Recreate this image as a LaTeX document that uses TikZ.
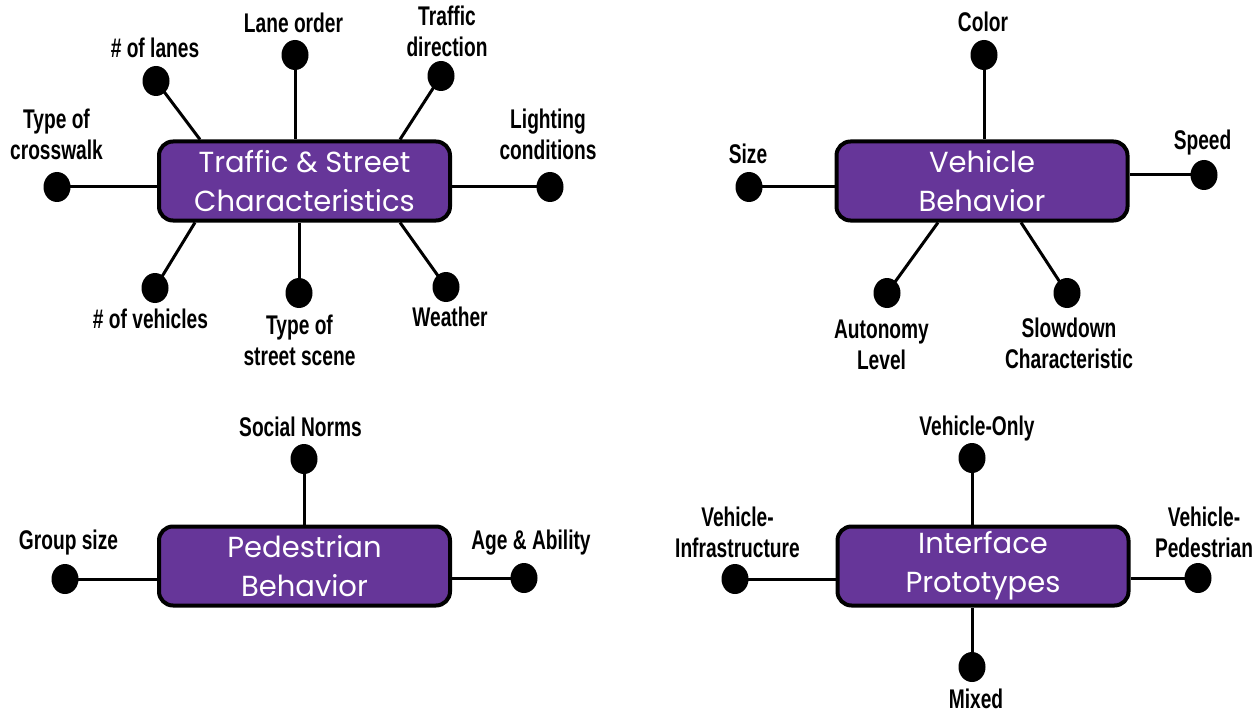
\documentclass[tikz,border=0pt]{standalone}
\usepackage{fontspec}
\usetikzlibrary{shapes.geometric,calc}
\newfontfamily\lblfont[FakeStretch=0.71]{Liberation Sans}
\newfontfamily\boxfont{Poppins}
\definecolor{boxpurple}{RGB}{102,54,153}
\begin{document}
\begin{tikzpicture}[x=1pt,y=-1pt,
  hub/.style={draw=black, line width=4pt, fill=boxpurple, rounded corners=14pt,
    minimum width=291pt, minimum height=79pt, inner sep=0pt, text=white,
    align=center, font=\boxfont\fontsize{29}{39}\selectfont},
  dot/.style={ellipse, fill=black, minimum width=27pt, minimum height=30pt, inner sep=0pt},
  lbl/.style={anchor=base, align=center, inner sep=0pt,
    font=\lblfont\bfseries\fontsize{27}{31}\selectfont},
  conn/.style={line width=3pt}]
\useasboundingbox[fill=white] (0,0) rectangle (1255,714);

% hubs
\node[hub] (b1) at (304.5,181) {Traffic \& Street\\Characteristics};
\node[hub] (b2) at (982,181) {Vehicle\\Behavior};
\node[hub] (b3) at (304.5,566) {Pedestrian\\Behavior};
\node[hub] (b4) at (983,566) {Interface\\Prototypes};

% dots, box 1
\node[dot] (d1a) at (156,81) {};
\node[dot] (d1b) at (295,55) {};
\node[dot] (d1c) at (441,76) {};
\node[dot] (d1d) at (57,187) {};
\node[dot] (d1e) at (550,187) {};
\node[dot] (d1f) at (155,288) {};
\node[dot] (d1g) at (299,293) {};
\node[dot] (d1h) at (446,287) {};
% dots, box 2
\node[dot] (d2a) at (984,55) {};
\node[dot] (d2b) at (749,187) {};
\node[dot] (d2c) at (1204,175) {};
\node[dot] (d2d) at (887,293) {};
\node[dot] (d2e) at (1067,293) {};
% dots, box 3
\node[dot] (d3a) at (304,459) {};
\node[dot] (d3b) at (65,579) {};
\node[dot] (d3c) at (524,578) {};
% dots, box 4
\node[dot] (d4a) at (972,458) {};
\node[dot] (d4b) at (735,579) {};
\node[dot] (d4c) at (1198,578) {};
\node[dot] (d4d) at (972,667) {};

% connectors, box 1
\draw[conn] (d1a.center) -- ($(b1.north west)+(43,0)$);
\draw[conn] (d1b.center) -- (d1b |- b1.north);
\draw[conn] (d1c.center) -- ($(b1.north west)+(243,0)$);
\draw[conn] (d1d.center) -- (d1d -| b1.west);
\draw[conn] (d1e.center) -- (d1e -| b1.east);
\draw[conn] (d1f.center) -- ($(b1.south west)+(38,0)$);
\draw[conn] (d1g.center) -- (d1g |- b1.south);
\draw[conn] (d1h.center) -- ($(b1.south west)+(243,0)$);
% connectors, box 2
\draw[conn] (d2a.center) -- (d2a |- b2.north);
\draw[conn] (d2b.center) -- (d2b -| b2.west);
\draw[conn] (d2c.center) -- (d2c -| b2.east);
\draw[conn] (d2d.center) -- ($(b2.south west)+(103.5,0)$);
\draw[conn] (d2e.center) -- ($(b2.south west)+(186.5,0)$);
% connectors, box 3
\draw[conn] (d3a.center) -- (d3a |- b3.north);
\draw[conn] (d3b.center) -- (d3b -| b3.west);
\draw[conn] (d3c.center) -- (d3c -| b3.east);
% connectors, box 4
\draw[conn] (d4a.center) -- (d4a |- b4.north);
\draw[conn] (d4b.center) -- (d4b -| b4.west);
\draw[conn] (d4c.center) -- (d4c -| b4.east);
\draw[conn] (d4d.center) -- (d4d |- b4.south);

% labels, box 1 (base = baseline of the last line)
\node[lbl] (l1a) at (155,58) {\# of lanes};
\node[lbl] (l1b) at (293.5,33) {Lane order};
\node[lbl] (l1c) at (447,57) {Traffic\\direction};
\node[lbl] (l1d) at (56.5,160) {Type of\\crosswalk};
\node[lbl] (l1e) at (548,160) {Lighting\\conditions};
\node[lbl] (l1f) at (150.5,328) {\# of vehicles};
\node[lbl] (l1g) at (299.5,365) {Type of\\street scene};
\node[lbl] (l1h) at (450,326) {Weather};
% labels, box 2
\node[lbl] (l2a) at (983,32) {Color};
\node[lbl] (l2b) at (748,164) {Size};
\node[lbl] (l2c) at (1202.5,150) {Speed};
\node[lbl] (l2d) at (881.5,369) {Autonomy\\Level};
\node[lbl] (l2e) at (1069,368) {Slowdown\\Characteristic};
% labels, box 3
\node[lbl] (l3a) at (300.5,436) {Social Norms};
\node[lbl] (l3b) at (68.5,549) {Group size};
\node[lbl] (l3c) at (531,549) {Age \& Ability};
% labels, box 4
\node[lbl] (l4a) at (977,435) {Vehicle-Only};
\node[lbl] (l4b) at (737.5,557) {Vehicle-\\Infrastructure};
\node[lbl] (l4c) at (1204,557) {Vehicle-\\Pedestrian};
\node[lbl] (l4d) at (976,708) {Mixed};
\end{tikzpicture}
\end{document}
